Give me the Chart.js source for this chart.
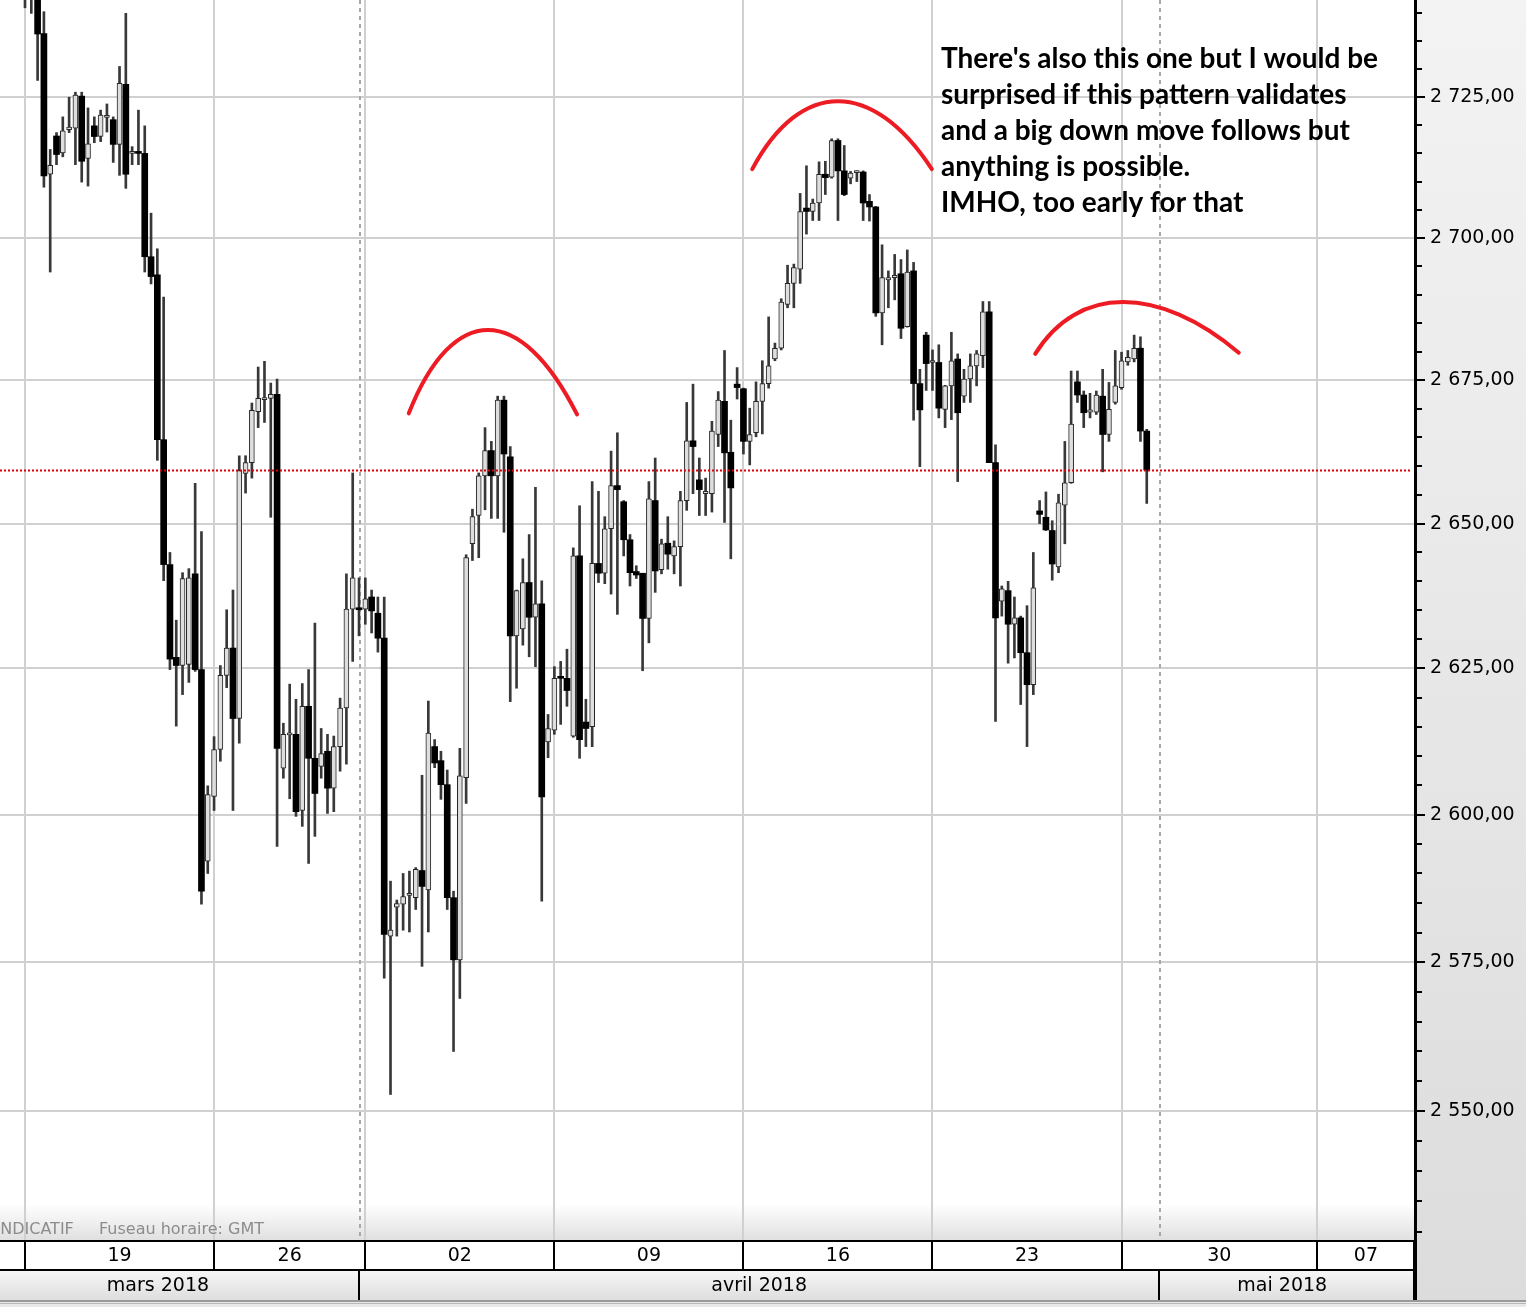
<!DOCTYPE html>
<html>
<head>
<meta charset="utf-8">
<script src="https://cdn.jsdelivr.net/npm/chart.js@4.4.1/dist/chart.umd.min.js"></script>
<style>
  html, body { margin: 0; padding: 0; background: #fff; overflow: hidden; }
</style>
</head>
<body>
<canvas id="chart" width="1526" height="1307"></canvas>
<script>
// 4-hour candles, 19 March -> 30 April 2018 (index 0 = Monday 19 March 00:00)
const opens = [
  2748, 2744, 2746, 2736.4, 2711.3, 2718.1, 2715.1, 2719.2, 2719.5, 2725.2,
  2714.1, 2719.9, 2718, 2721.4, 2721, 2716.6, 2727.3, 2715, 2715.1, 2715,
  2696.7, 2693.5, 2664.6, 2642.9, 2626.9, 2625.5, 2625.7, 2641.3, 2624.8, 2592.1,
  2603.1, 2611.1, 2623.8, 2628.5, 2616.4, 2658.7, 2660.6, 2669.5, 2671.6, 2671.8,
  2672.5, 2607.9, 2613.6, 2613.7, 2600.7, 2618.5, 2609.6, 2608.2, 2610.8, 2604.5,
  2611.6, 2618.2, 2635.2, 2635.3, 2635.2, 2637.3, 2634.5, 2630.2, 2579.4, 2584.3,
  2584.8, 2586.3, 2585.9, 2590.5, 2587.2, 2611.6, 2609.2, 2605.1, 2585.9, 2575.4,
  2606.3, 2646.5, 2651.4, 2658.3, 2662.7, 2658.3, 2671.5, 2661.6, 2630.6, 2631.8,
  2639.8, 2633.8, 2636.1, 2612.4, 2614.4, 2623.4, 2623.3, 2613.4, 2644.4, 2615.8,
  2615, 2643.1, 2641.4, 2649.1, 2656.6, 2653.8, 2647.2, 2641.7, 2641.4, 2633.6,
  2654, 2642, 2646.6, 2644.4, 2646, 2654, 2664.4, 2657.6, 2655.2, 2655.2,
  2665.5, 2671.3, 2662.4, 2674.3, 2673.5, 2664.3, 2665.8, 2671.3, 2674.4, 2678.7,
  2680.6, 2688.3, 2692, 2694.5, 2705.3, 2704.7, 2706.2, 2711.3, 2710.8, 2717.3,
  2711.9, 2710.6, 2711.6, 2711.7, 2706.5, 2705.5, 2686.8, 2692.6, 2693, 2693.7,
  2684.4, 2694.2, 2674.4, 2682.9, 2678.1, 2678.1, 2669.9, 2674, 2678.7, 2672.2,
  2675.2, 2677.5, 2679.3, 2687, 2660.6, 2636.6, 2638.4, 2632.6, 2633.7, 2627.7,
  2622.2, 2652.2, 2651.1, 2648.8, 2642.5, 2653.2, 2657.1, 2674.7, 2672.4, 2669.4,
  2669.4, 2672.2, 2665.5, 2671.1, 2673.7, 2678.2, 2678.7, 2680.6, 2666.1
];
const highs = [
  2752, 2749, 2748, 2740.3, 2715.7, 2718.7, 2721.5, 2725, 2725.9, 2725.9,
  2723.1, 2721.5, 2722.7, 2723.8, 2721.5, 2730.5, 2740, 2716.2, 2722.7, 2719.9,
  2704.4, 2698.1, 2689.6, 2645, 2633.3, 2641.5, 2642.2, 2657, 2648.6, 2604.9,
  2613.3, 2625.5, 2635.1, 2638.5, 2661.8, 2661.8, 2671, 2677.3, 2678.3, 2674.5,
  2675.2, 2615.6, 2622.3, 2619.7, 2622.4, 2624.8, 2632.8, 2614.7, 2613.7, 2613.4,
  2619.9, 2641.3, 2658.8, 2640.6, 2640.6, 2638.5, 2637.3, 2637.3, 2588.7, 2585.5,
  2590, 2590.4, 2591, 2606.7, 2619.4, 2612.8, 2610.8, 2607.6, 2587, 2611.3,
  2644.6, 2652.5, 2658.8, 2666.7, 2664.3, 2672.2, 2672.2, 2663.4, 2638.5, 2643.9,
  2648.1, 2656.3, 2640.1, 2617.1, 2625.3, 2626.2, 2628.3, 2645.8, 2653.1, 2619.7,
  2657.3, 2655.6, 2651.2, 2662.6, 2665.8, 2654, 2648.1, 2642.7, 2641.4, 2657.3,
  2661.4, 2647.3, 2651.2, 2647, 2655.6, 2671.1, 2674.3, 2661.4, 2657.9, 2667.8,
  2673, 2680.2, 2668, 2677.2, 2673.6, 2670.1, 2674.7, 2678.4, 2686.1, 2681.5,
  2689.3, 2695.2, 2695.4, 2707.9, 2712.8, 2706.9, 2713.5, 2713.6, 2717.6, 2717.6,
  2716.4, 2711.8, 2711.9, 2711.9, 2707.7, 2705.6, 2698.8, 2694.2, 2697.1, 2696.2,
  2697.9, 2695.7, 2676.9, 2683.4, 2680.3, 2681.2, 2674.1, 2683.4, 2679.6, 2676.9,
  2679.6, 2680.2, 2688.8, 2688.8, 2663.7, 2639.2, 2640, 2637.3, 2634, 2635.8,
  2645, 2654, 2655.5, 2650.5, 2655.1, 2664.3, 2676.6, 2676.6, 2673.1, 2672.7,
  2673.1, 2676.9, 2674.6, 2680.2, 2679.9, 2680.2, 2682.9, 2682.6, 2666.4
];
const lows = [
  2741, 2740, 2728, 2709, 2694, 2713, 2714.4, 2718.7, 2713, 2709.9,
  2709.2, 2716.9, 2717.1, 2718.8, 2713.4, 2711.1, 2708.8, 2713, 2713, 2694,
  2691.9, 2661, 2640.1, 2624.8, 2615.1, 2620.5, 2622.6, 2624.5, 2584.8, 2590,
  2600.7, 2609.1, 2621.7, 2600.7, 2612.2, 2655.3, 2657.9, 2666.7, 2667.6, 2651.1,
  2594.6, 2606.2, 2602.7, 2599.7, 2598, 2591.7, 2596.3, 2606.2, 2600.2, 2600.5,
  2607.4, 2608.6, 2626.2, 2630.6, 2632.6, 2631.1, 2627.8, 2572.3, 2552.8, 2579.4,
  2580.4, 2580.1, 2583.9, 2574.3, 2580.1, 2608, 2602.6, 2583.9, 2560, 2568.9,
  2601.9, 2643.6, 2644.1, 2652.4, 2650.9, 2650.9, 2648.5, 2619.3, 2621.6, 2629,
  2627, 2625.3, 2585.3, 2609.7, 2613.7, 2615.4, 2618.5, 2613.2, 2609.6, 2611.6,
  2611.6, 2639.8, 2639.6, 2637.8, 2634.3, 2644.4, 2639.2, 2640.5, 2624.6, 2629.4,
  2638.1, 2641.3, 2642.1, 2641.3, 2639.2, 2652.3, 2655.2, 2651.4, 2651.4, 2652,
  2663.4, 2650.2, 2643.9, 2671.7, 2662.1, 2660.2, 2665.1, 2665.6, 2673.6, 2678.4,
  2680.3, 2687.7, 2687.7, 2692, 2700.7, 2703.1, 2703.1, 2707.7, 2710.6, 2703.1,
  2707.5, 2709.6, 2710, 2703.1, 2703, 2686.2, 2681.2, 2687.7, 2689.1, 2682.3,
  2684.3, 2668, 2659.9, 2673.2, 2673.2, 2668.4, 2666.7, 2668.1, 2657.3, 2671.1,
  2671.1, 2674, 2677.2, 2660.6, 2615.9, 2634, 2625.9, 2626.8, 2618.8, 2611.6,
  2620.5, 2650, 2648.8, 2640.2, 2641.5, 2646.5, 2657, 2671.1, 2666.7, 2668.4,
  2669, 2659, 2664.3, 2670.8, 2673.4, 2677.6, 2678.2, 2664.3, 2653.5
];
const closes = [
  2745, 2747, 2736.3, 2711, 2712.9, 2714.8, 2719, 2719.7, 2725.4, 2713.6,
  2716.7, 2718, 2721.8, 2721.6, 2716.6, 2727.5, 2711.3, 2715.1, 2715, 2696.7,
  2693.2, 2664.6, 2642.9, 2626.6, 2625.5, 2640.5, 2640.6, 2624.8, 2587, 2603.4,
  2611.1, 2623.8, 2628.5, 2616.4, 2659.2, 2660.6, 2669.7, 2671.8, 2671.7, 2672.5,
  2611.3, 2613.7, 2613.8, 2600.5, 2618.5, 2609.6, 2603.6, 2610.4, 2604.5, 2611.6,
  2618.2, 2635.2, 2640.6, 2635.1, 2637, 2634.9, 2630.2, 2579.7, 2580.4, 2584.9,
  2586.1, 2586.5, 2590.7, 2587.8, 2613.9, 2608.8, 2605.1, 2585.9, 2575.4, 2606.6,
  2644.1, 2651.2, 2658.3, 2662.7, 2658.3, 2671.5, 2662.1, 2630.6, 2638.4, 2639.8,
  2633.8, 2636.1, 2603, 2614.7, 2623.3, 2623.3, 2621.2, 2644.4, 2612.8, 2614.7,
  2643.1, 2641.4, 2649.1, 2656.6, 2655.9, 2647.2, 2641.5, 2641.1, 2633.6, 2654.3,
  2641.8, 2646.5, 2644.7, 2646, 2654, 2664.4, 2663.4, 2655.9, 2655.6, 2666.1,
  2671.5, 2662.3, 2656.2, 2673.7, 2664.3, 2665.5, 2671.3, 2674.4, 2677.5, 2680.6,
  2688.7, 2692, 2694.8, 2704.7, 2704.7, 2706.2, 2711.3, 2710.7, 2717.3, 2711.9,
  2707.7, 2711.5, 2711.7, 2706.2, 2705.5, 2686.8, 2693, 2693, 2693.4, 2684.1,
  2694, 2674.4, 2669.8, 2677.9, 2678.3, 2670.1, 2674, 2678.4, 2669.3, 2675.2,
  2677.5, 2679.6, 2687, 2660.6, 2633.7, 2638.7, 2632.6, 2633.7, 2627.7, 2622.2,
  2638.9, 2651.6, 2648.9, 2643, 2653.6, 2657.1, 2667.3, 2672.4, 2669.3, 2669.8,
  2672.4, 2665.5, 2669.9, 2674, 2678.4, 2679, 2680.6, 2666.1, 2659.3
];

// time axis (candle index of each Monday 00:00, month starts)
const weekStarts = [0, 30, 54, 84, 114, 144, 174, 205];
const weekLabels = ['19', '26', '02', '09', '16', '23', '30', '07'];
const monthStarts = [53, 180];
const monthLabels = ['mars 2018', 'avril 2018', 'mai 2018'];
const monthLabelPos = [21.1, 116.5, 199.5];

// price axis
const priceMin = 2528.6;
const priceMax = 2742.4;
const priceMajor = [2550, 2575, 2600, 2625, 2650, 2675, 2700, 2725];

// hand-drawn arcs: start, top, end as [candle index, price]
const arcs = [
  [[60.9, 2669.2], [73.5, 2683.8], [87.6, 2669.0]],
  [[115.4, 2712.2], [129.0, 2724.3], [143.9, 2712.2]],
  [[160.3, 2679.6], [174.2, 2688.7], [192.6, 2679.8]]
];
const noteLines = [
  "There's also this one but I would be",
  "surprised if this pattern validates",
  "and a big down move follows but",
  "anything is possible.",
  "IMHO, too early for that"
];

const fmtPrice = v => Math.floor(v / 1000) + ' ' + String(Math.round(v % 1000)).padStart(3, '0') + ',00';

const idx = opens.map((_, i) => i);
const wickData = idx.map(i => ({ x: i, y: [lows[i], highs[i]] }));
const upIdx = idx.filter(i => closes[i] >= opens[i]);
const downIdx = idx.filter(i => closes[i] < opens[i]);
const upBodies = upIdx.map(i => ({ x: i, y: [opens[i], closes[i]] }));
const downBodies = downIdx.map(i => ({ x: i, y: [closes[i], opens[i]] }));

const decor = {
  id: 'decor',
  beforeDraw(chart) {
    const { ctx, chartArea: a } = chart;
    ctx.save();
    ctx.fillStyle = '#ffffff';
    ctx.fillRect(0, 0, chart.width, chart.height);
    // fade at the bottom of the plot
    let g = ctx.createLinearGradient(0, a.bottom - 36, 0, a.bottom);
    g.addColorStop(0, '#ffffff');
    g.addColorStop(1, '#e0e0e0');
    ctx.fillStyle = g;
    ctx.fillRect(a.left, a.bottom - 36, a.right - a.left, 36);
    // price axis panel
    g = ctx.createLinearGradient(0, 0, 0, chart.height);
    g.addColorStop(0, '#f3f3f3');
    g.addColorStop(1, '#dcdcdc');
    ctx.fillStyle = g;
    ctx.fillRect(a.right, 0, chart.width - a.right, chart.height);
    ctx.restore();
  },
  beforeDatasetsDraw(chart) {
    const { ctx, chartArea: a, scales: { x } } = chart;
    ctx.save();
    ctx.strokeStyle = '#a8a8a8';
    ctx.lineWidth = 2;
    ctx.setLineDash([4, 4]);
    monthStarts.forEach(m => {
      const px = Math.round(x.getPixelForValue(m)) + 1;
      ctx.beginPath();
      ctx.moveTo(px, a.top);
      ctx.lineTo(px, a.bottom);
      ctx.stroke();
    });
    ctx.setLineDash([]);
    ctx.fillStyle = '#8c8c8c';
    ctx.font = '16px "DejaVu Sans"';
    ctx.textBaseline = 'alphabetic';
    ctx.fillText('INDICATIF', -4.5, a.bottom - 6);
    ctx.fillText('Fuseau horaire: GMT', 99, a.bottom - 6);
    ctx.restore();
  },
  afterDatasetsDraw(chart) {
    const { ctx, chartArea: a, scales: { x, y } } = chart;
    ctx.save();
    // last price line
    const py = Math.round(y.getPixelForValue(closes[closes.length - 1])) + 0.5;
    ctx.strokeStyle = '#e00000';
    ctx.lineWidth = 2;
    ctx.setLineDash([2, 2]);
    ctx.beginPath();
    ctx.moveTo(a.left, py);
    ctx.lineTo(a.right - 5, py);
    ctx.stroke();
    ctx.setLineDash([]);
    // arcs
    ctx.strokeStyle = '#ed1c24';
    ctx.lineWidth = 4;
    ctx.lineCap = 'round';
    arcs.forEach(pts => {
      const [p0, pk, p3] = pts.map(([i, v]) => [x.getPixelForValue(i), y.getPixelForValue(v)]);
      const w = p3[0] - p0[0];
      const shift = (pk[0] - (p0[0] + p3[0]) / 2) / 0.75;
      const cy = (8 * pk[1] - p0[1] - p3[1]) / 6;
      ctx.beginPath();
      ctx.moveTo(p0[0], p0[1]);
      ctx.bezierCurveTo(p0[0] + 0.3 * w + shift, cy, p3[0] - 0.3 * w + shift, cy, p3[0], p3[1]);
      ctx.stroke();
    });
    // note
    ctx.font = 'bold 100px Lato';
    const size = 100 * 437 / ctx.measureText(noteLines[0]).width;
    ctx.font = 'bold ' + size.toFixed(2) + 'px Lato';
    ctx.fillStyle = '#000';
    ctx.textBaseline = 'alphabetic';
    noteLines.forEach((t, k) => ctx.fillText(t, 941, 67.5 + k * 36));
    ctx.restore();
  },
  afterDraw(chart) {
    const { ctx, chartArea: a, scales: { x, y } } = chart;
    const top = a.bottom;
    ctx.save();
    // week row
    ctx.fillStyle = '#ffffff';
    ctx.fillRect(0, top, a.right, 30);
    // month row
    let g = ctx.createLinearGradient(0, top + 30, 0, top + 60);
    g.addColorStop(0, '#f7f7f7');
    g.addColorStop(1, '#dedede');
    ctx.fillStyle = g;
    ctx.fillRect(0, top + 30, a.right, 30);
    // bottom strip
    ctx.fillStyle = '#e8e8e8';
    ctx.fillRect(0, top + 60, chart.width, chart.height - top - 60);
    ctx.fillStyle = '#9a9a9a';
    ctx.fillRect(0, top + 60, chart.width, 2);
    ctx.fillStyle = '#b8b8b8';
    ctx.fillRect(0, top + 63, chart.width, 1);

    ctx.fillStyle = '#000';
    ctx.fillRect(0, top, a.right, 2);
    ctx.fillRect(0, top + 29, a.right, 2);
    // week separators and labels
    ctx.font = '19px "DejaVu Sans"';
    ctx.textAlign = 'center';
    ctx.textBaseline = 'middle';
    weekStarts.forEach((w, k) => {
      const px = Math.round(x.getPixelForValue(w));
      if (px >= a.left && px <= a.right) ctx.fillRect(px - 1, top, 2, 30);
      const next = k + 1 < weekStarts.length ? weekStarts[k + 1] : x.max;
      const cx = x.getPixelForValue((w + Math.min(next, x.max)) / 2);
      ctx.fillText(weekLabels[k], cx, top + 16);
    });
    ctx.fillRect(a.right - 2, top, 2, 60);
    // month separators and labels
    monthStarts.forEach(m => {
      const px = Math.round(x.getPixelForValue(m));
      ctx.fillRect(px - 1, top + 30, 2, 30);
    });
    monthLabels.forEach((t, k) => ctx.fillText(t, x.getPixelForValue(monthLabelPos[k]), top + 46));

    // price axis line and ticks
    ctx.fillRect(a.right - 1, 0, 3, top + 60);
    for (let v = 2530; v <= 2740; v += 5) {
      const py = Math.round(y.getPixelForValue(v));
      const len = priceMajor.includes(v) ? 10 : 7;
      ctx.fillRect(a.right, py - 1, len, 2);
    }
    ctx.restore();
  }
};

new Chart(document.getElementById('chart'), {
  type: 'bar',
  data: {
    datasets: [
      { label: 'wick', data: wickData, backgroundColor: '#383838', barThickness: 2, grouped: false, order: 3 },
      { label: 'up', data: upBodies, backgroundColor: '#dedede', borderColor: '#262626', borderWidth: 1,
        borderSkipped: false, barThickness: 5, minBarLength: 2, grouped: false, order: 2 },
      { label: 'down', data: downBodies, backgroundColor: '#000000', borderColor: '#000000', borderWidth: 0,
        barThickness: 6, minBarLength: 2, grouped: false, order: 1 }
    ]
  },
  options: {
    responsive: false,
    animation: false,
    devicePixelRatio: 1,
    layout: { padding: 0 },
    plugins: { legend: { display: false }, tooltip: { enabled: false } },
    scales: {
      x: {
        type: 'linear',
        offset: false,
        bounds: 'data',
        min: -25 / 6.302,
        max: (1415 - 25) / 6.302,
        afterBuildTicks: s => { s.ticks = weekStarts.map(v => ({ value: v })); },
        afterFit: s => { s.height = 67; s.paddingLeft = 0; s.paddingRight = 0; },
        grid: { color: '#d0d0d0', lineWidth: 2, drawTicks: false, offset: false },
        border: { display: false },
        ticks: { display: false }
      },
      y: {
        type: 'logarithmic',
        position: 'right',
        bounds: 'data',
        min: priceMin,
        max: priceMax,
        afterBuildTicks: s => {
          const t = [];
          for (let v = 2530; v <= 2740; v += 5) t.push({ value: v });
          s.ticks = t;
        },
        afterFit: s => { s.width = 111; s.paddingTop = 0; s.paddingBottom = 0; },
        grid: {
          color: c => (c.tick && priceMajor.includes(c.tick.value)) ? '#d0d0d0' : 'rgba(0,0,0,0)',
          lineWidth: 2,
          drawTicks: false
        },
        border: { display: false },
        ticks: {
          autoSkip: false,
          padding: 15,
          color: '#000',
          font: { family: 'DejaVu Sans', size: 19 },
          callback: v => priceMajor.includes(v) ? fmtPrice(v) : ''
        }
      }
    }
  },
  plugins: [decor]
});
</script>
</body>
</html>
